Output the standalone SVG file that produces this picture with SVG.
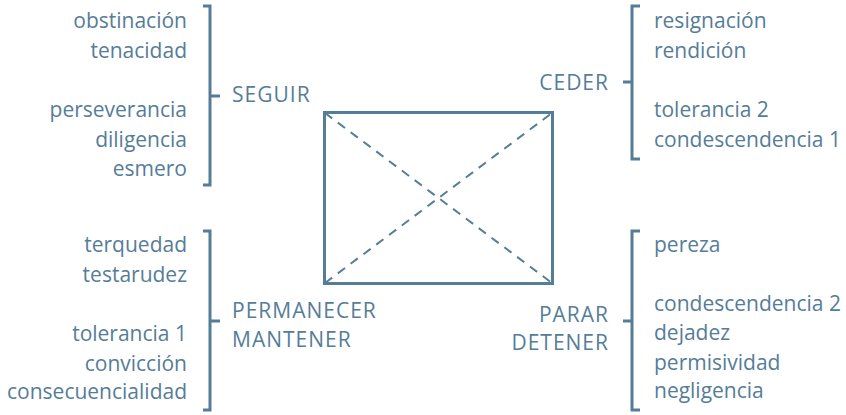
<svg xmlns="http://www.w3.org/2000/svg" width="846" height="415" viewBox="0 0 846 415">
<style>
.t{font-family:"Open Sans","Liberation Sans",sans-serif;font-size:21px;fill:#557d98}
.l{letter-spacing:1px}
.r{text-anchor:end}
.b{fill:none;stroke:#557d98;stroke-width:3}
.d{fill:none;stroke:#557d98;stroke-width:2;stroke-dasharray:9 7}
</style>
<rect width="846" height="415" fill="#ffffff"/>
<g id="connectors">
<line class="d" x1="325" y1="113" x2="552" y2="283"/>
<line class="d" x1="325" y1="283" x2="552" y2="113"/>
</g>
<g id="square"><rect class="b" x="324.5" y="112.5" width="228" height="171"/></g>
<g id="seguir">
<path class="b" d="M203 6H210V185H203M210 96H220"/>
<text class="t l" x="232" y="102">SEGUIR</text>
<text class="t r" x="187" y="28">obstinación</text>
<text class="t r" x="187" y="58">tenacidad</text>
<text class="t r" x="187" y="117">perseverancia</text>
<text class="t r" x="187" y="147">diligencia</text>
<text class="t r" x="187" y="176">esmero</text>
</g>
<g id="ceder">
<path class="b" d="M640 6H632V159H640M632 82H623"/>
<text class="t l r" x="609" y="90">CEDER</text>
<text class="t" x="654" y="28">resignación</text>
<text class="t" x="654" y="58">rendición</text>
<text class="t" x="654" y="117">tolerancia 2</text>
<text class="t" x="654" y="147">condescendencia 1</text>
</g>
<g id="permanecer">
<path class="b" d="M203 231H210V410H203M210 321H220"/>
<text class="t l" x="232" y="318">PERMANECER</text>
<text class="t l" x="232" y="347">MANTENER</text>
<text class="t r" x="187" y="252">terquedad</text>
<text class="t r" x="187" y="282">testarudez</text>
<text class="t r" x="187" y="341">tolerancia 1</text>
<text class="t r" x="187" y="371">convicción</text>
<text class="t r" x="187" y="399">consecuencialidad</text>
</g>
<g id="parar">
<path class="b" d="M640 231H632V410H640M632 321H623"/>
<text class="t l r" x="609" y="322">PARAR</text>
<text class="t l r" x="609" y="350">DETENER</text>
<text class="t" x="654" y="252">pereza</text>
<text class="t" x="654" y="311">condescendencia 2</text>
<text class="t" x="654" y="340">dejadez</text>
<text class="t" x="654" y="370">permisividad</text>
<text class="t" x="654" y="398">negligencia</text>
</g>
</svg>
